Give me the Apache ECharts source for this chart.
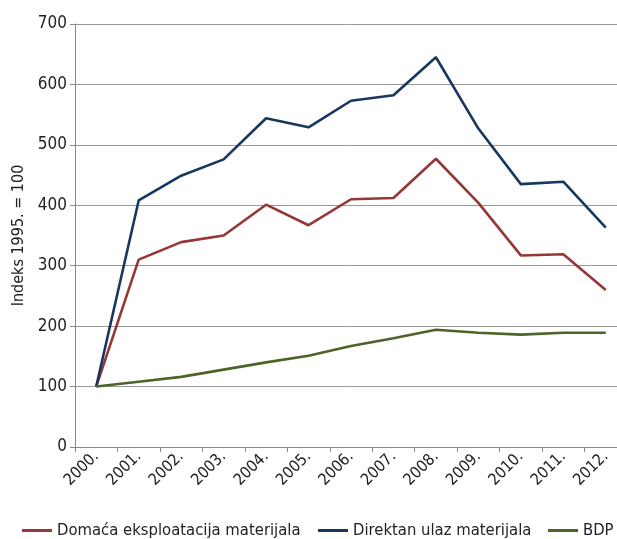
<!DOCTYPE html>
<html><head><meta charset="utf-8">
<script src="https://cdn.jsdelivr.net/npm/echarts@6/dist/echarts.min.js"></script>
<style>html,body{margin:0;padding:0;background:#fff;overflow:hidden}#c{width:617px;height:539px}</style>
</head><body><div id="c"></div>
<script>
const categories = ['2000.','2001.','2002.','2003.','2004.','2005.','2006.','2007.','2008.','2009.','2010.','2011.','2012.'];
const domacaEksploatacija = [100, 310, 339, 350, 401, 367, 410, 412, 477, 404, 317, 319, 260];
const direktanUlaz = [100, 408, 449, 476, 544, 529, 573, 582, 645, 527, 435, 439, 363];
const bdp = [100, 108, 116, 128, 140, 151, 167, 180, 194, 189, 186, 189, 189];
const seriesNames = ['Domaća eksploatacija materijala', 'Direktan ulaz materijala', 'BDP'];
const yAxisName = 'Indeks 1995. = 100';

const FONT = '"Liberation Sans Narrow", "DejaVu Sans Condensed", "Roboto", sans-serif';
const colors = ['#953735', '#17375E', '#4F6228'];
const chart = echarts.init(document.getElementById('c'), null, {renderer: 'canvas'});
const mk = (name, data, color) => ({
  name, type: 'line', data, symbol: 'none', smooth: false,
  lineStyle: {color, width: 2.6}, itemStyle: {color}
});
const legendPos = [22, 318, 548];
const legends = seriesNames.map((n, i) => ({
  top: 522, left: legendPos[i], padding: 0, itemWidth: 30, itemHeight: 3, itemGap: 5, icon: 'rect',
  textStyle: {fontFamily: FONT, fontSize: 16.5, color: '#222'},
  data: [n]
}));
chart.setOption({
  animation: false,
  color: colors,
  textStyle: {fontFamily: FONT},
  grid: {left: 75, top: 24, right: -10, bottom: 92, outerBoundsMode: 'none', containLabel: false},
  legend: legends,
  xAxis: {
    type: 'category', data: categories, boundaryGap: true,
    axisLine: {lineStyle: {color: '#888'}},
    axisTick: {show: true, length: 5, lineStyle: {color: '#888'}},
    axisLabel: {rotate: 45, fontSize: 16, color: '#222', fontFamily: FONT, margin: 7}
  },
  yAxis: {
    type: 'value', min: 0, max: 700, interval: 100,
    name: yAxisName, nameLocation: 'middle', nameGap: 46, nameRotate: 90,
    nameTextStyle: {fontSize: 16, color: '#222', fontFamily: FONT},
    axisLine: {show: true, lineStyle: {color: '#888'}},
    axisTick: {show: true, length: 5, lineStyle: {color: '#888'}},
    splitLine: {lineStyle: {color: '#999', width: 1}},
    axisLabel: {fontSize: 17, color: '#222', fontFamily: FONT, margin: 8}
  },
  series: [
    mk(seriesNames[0], domacaEksploatacija, colors[0]),
    mk(seriesNames[1], direktanUlaz, colors[1]),
    mk(seriesNames[2], bdp, colors[2])
  ]
});
</script></body></html>
